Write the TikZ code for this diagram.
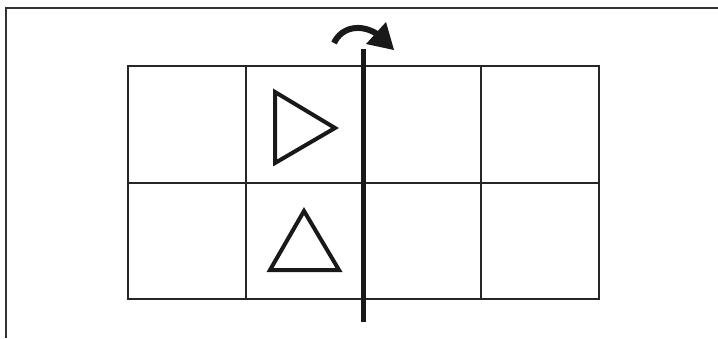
\documentclass[tikz,border=0pt]{standalone}
\begin{document}
\begin{tikzpicture}[x=1pt,y=-1pt,
  gridline/.style={line width=2.2pt,draw=black!85},
  frameline/.style={line width=1.6pt,draw=black!80},
  axisline/.style={line width=5pt,draw=black!90},
  shapeline/.style={line width=4pt,draw=black!90,line join=miter},
  turnarc/.style={line width=6pt,draw=black!90},
  turnhead/.style={fill=black!90}]
\useasboundingbox (0,0) rectangle (718,338);
% frame
\draw[frameline] (6,338) -- (6,8) -- (718,8);
% grid
\draw[gridline] (128,66) rectangle (599,299);
\draw[gridline] (128,183) -- (599,183);
\draw[gridline] (246,66) -- (246,299);
\draw[gridline] (481,66) -- (481,299);
% axis line
\draw[axisline] (363,49) -- (363,322);
% triangles
\draw[shapeline] (275,92) -- (275,163) -- (335,128) -- cycle;
\draw[shapeline] (304,211) -- (339,270) -- (270,270) -- cycle;
% rotation arrow
\draw[turnarc] (334,43) .. controls (342,26) and (362,24) .. (377,34);
\fill[turnhead] (366,44) -- (386,22) -- (394,50) -- cycle;
\end{tikzpicture}
\end{document}
